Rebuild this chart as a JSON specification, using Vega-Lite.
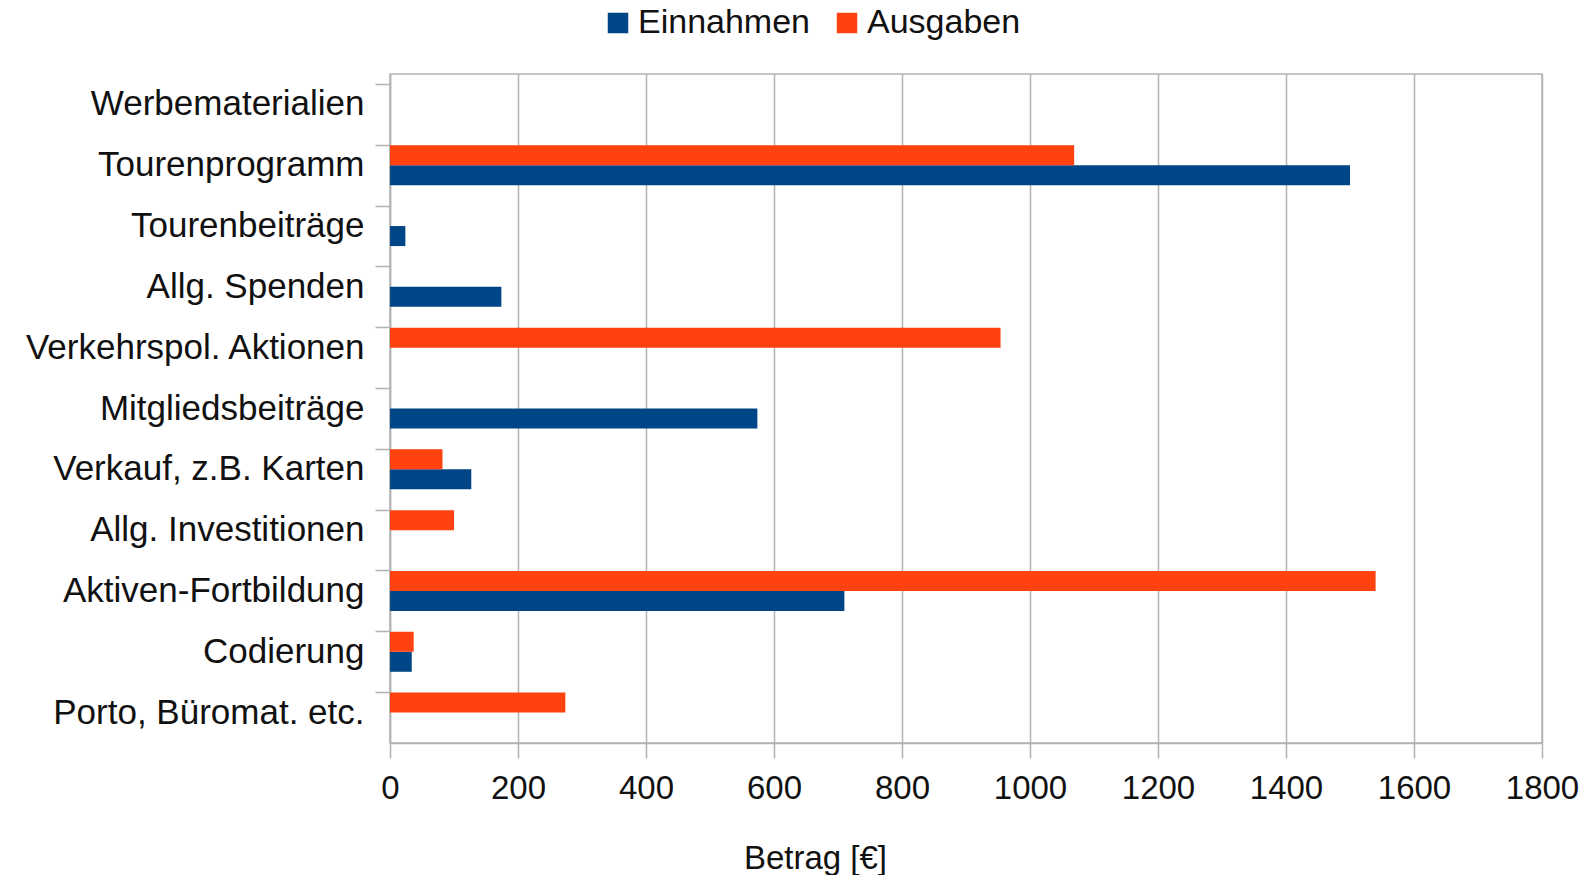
{
  "$schema": "https://vega.github.io/schema/vega-lite/v6.json",
  "width": 1152,
  "height": 669,
  "autosize": {"type": "none"},
  "padding": {"left": 390, "top": 74, "right": 53, "bottom": 132},
  "background": "white",
  "config": {
    "font": "Liberation Sans",
    "view": {"stroke": "#b3b3b3", "strokeWidth": 1.5},
    "axis": {
      "labelFont": "Liberation Sans",
      "titleFont": "Liberation Sans",
      "labelColor": "#111111",
      "titleColor": "#111111",
      "domainColor": "#b3b3b3",
      "tickColor": "#b3b3b3",
      "gridColor": "#b3b3b3",
      "domainWidth": 1.5,
      "tickWidth": 1.5,
      "gridWidth": 1.5
    },
    "legend": {"labelFont": "Liberation Sans"}
  },
  "data": {
    "values": [
      {"Kategorie": "Tourenprogramm", "Art": "Einnahmen", "Betrag": 1500},
      {"Kategorie": "Tourenprogramm", "Art": "Ausgaben", "Betrag": 1069},
      {"Kategorie": "Tourenbeiträge", "Art": "Einnahmen", "Betrag": 24},
      {"Kategorie": "Allg. Spenden", "Art": "Einnahmen", "Betrag": 174},
      {"Kategorie": "Verkehrspol. Aktionen", "Art": "Ausgaben", "Betrag": 954},
      {"Kategorie": "Mitgliedsbeiträge", "Art": "Einnahmen", "Betrag": 574},
      {"Kategorie": "Verkauf, z.B. Karten", "Art": "Einnahmen", "Betrag": 127},
      {"Kategorie": "Verkauf, z.B. Karten", "Art": "Ausgaben", "Betrag": 82},
      {"Kategorie": "Allg. Investitionen", "Art": "Ausgaben", "Betrag": 100},
      {"Kategorie": "Aktiven-Fortbildung", "Art": "Einnahmen", "Betrag": 710},
      {"Kategorie": "Aktiven-Fortbildung", "Art": "Ausgaben", "Betrag": 1540},
      {"Kategorie": "Codierung", "Art": "Einnahmen", "Betrag": 34},
      {"Kategorie": "Codierung", "Art": "Ausgaben", "Betrag": 37},
      {"Kategorie": "Porto, Büromat. etc.", "Art": "Ausgaben", "Betrag": 274}
    ]
  },
  "mark": {"type": "bar"},
  "encoding": {
    "y": {
      "field": "Kategorie",
      "type": "nominal",
      "scale": {
        "domain": ["Werbematerialien", "Tourenprogramm", "Tourenbeiträge", "Allg. Spenden", "Verkehrspol. Aktionen", "Mitgliedsbeiträge", "Verkauf, z.B. Karten", "Allg. Investitionen", "Aktiven-Fortbildung", "Codierung", "Porto, Büromat. etc."],
        "paddingInner": 0.342,
        "paddingOuter": 0.171
      },
      "axis": {
        "title": null,
        "bandPosition": 0,
        "tickSize": 15,
        "labelPadding": 11,
        "labelFontSize": 35,
        "labelLimit": 400,
        "grid": false
      }
    },
    "yOffset": {
      "field": "Art",
      "type": "nominal",
      "scale": {"domain": ["Ausgaben", "Einnahmen"], "paddingInner": 0, "paddingOuter": 0}
    },
    "x": {
      "field": "Betrag",
      "type": "quantitative",
      "scale": {"domain": [0, 1800], "nice": false},
      "axis": {
        "title": "Betrag [€]",
        "format": "d",
        "values": [0, 200, 400, 600, 800, 1000, 1200, 1400, 1600, 1800],
        "labelFlush": false,
        "labelOverlap": false,
        "tickSize": 15,
        "labelPadding": 14,
        "labelFontSize": 33,
        "titleFontSize": 33,
        "titleFontWeight": "normal",
        "titlePadding": 37,
        "titleX": 425,
        "titleAlign": "center",
        "grid": true
      }
    },
    "color": {
      "field": "Art",
      "type": "nominal",
      "scale": {"domain": ["Einnahmen", "Ausgaben"], "range": ["#004586", "#ff420e"]},
      "legend": {
        "title": null,
        "orient": "none",
        "direction": "horizontal",
        "legendX": 211,
        "legendY": -68,
        "symbolType": "square",
        "symbolSize": 420,
        "symbolStrokeWidth": 0,
        "labelFontSize": 34,
        "labelColor": "#111111",
        "labelOffset": 3,
        "columnPadding": 19,
        "labelLimit": 400
      }
    }
  }
}
